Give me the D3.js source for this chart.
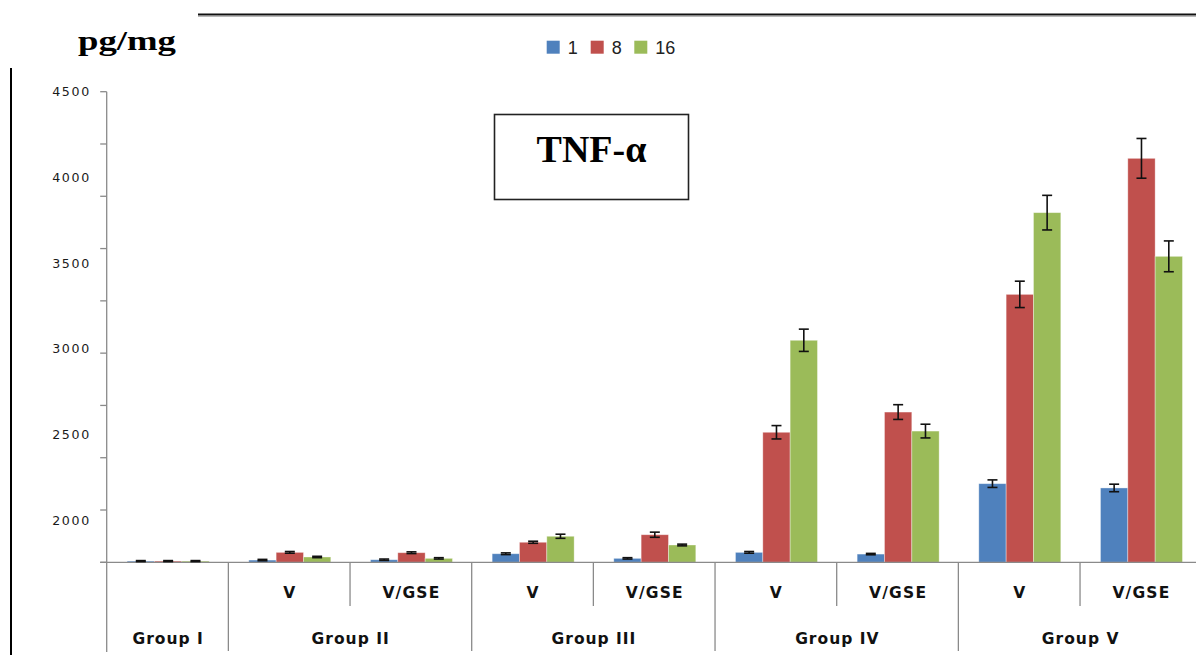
<!DOCTYPE html>
<html>
<head>
<meta charset="utf-8">
<script src="https://cdn.jsdelivr.net/npm/d3@7/dist/d3.min.js"></script>
<style>
  html, body { margin: 0; padding: 0; background: #fff; }
  svg { display: block; }
</style>
</head>
<body>
<svg id="chart" width="1196" height="655"></svg>
<script>
// TNF-α levels (pg/mg) by group and time point
const categories = ["I", "II-V", "II-VGSE", "III-V", "III-VGSE", "IV-V", "IV-VGSE", "V-V", "V-VGSE"];
const subLabels  = ["", "V", "V/GSE", "V", "V/GSE", "V", "V/GSE", "V", "V/GSE"];
const groups = [
  { name: "Group I",   cats: ["I"] },
  { name: "Group II",  cats: ["II-V", "II-VGSE"] },
  { name: "Group III", cats: ["III-V", "III-VGSE"] },
  { name: "Group IV",  cats: ["IV-V", "IV-VGSE"] },
  { name: "Group V",   cats: ["V-V", "V-VGSE"] }
];
const seriesNames = ["1", "8", "16"];
const seriesColors = ["#4F81BD", "#C0504D", "#9BBB59"];

const values1  = [1760, 1766, 1768, 1803, 1776, 1811, 1801, 2212, 2187];
const values8  = [1760, 1811, 1809, 1870, 1914, 2512, 2630, 3317, 4111];
const values16 = [1760, 1784, 1776, 1905, 1854, 3049, 2519, 3794, 3539];
const errors1  = [3, 4, 4, 5, 4, 5, 4, 22, 22];
const errors8  = [3, 5, 5, 6, 15, 39, 43, 77, 116];
const errors16 = [3, 4, 4, 12, 5, 65, 40, 101, 90];

const yTickLabels = [2000, 2500, 3000, 3500, 4000, 4500];
const yMin = 1753, yMax = 4500;
const tickMarkCount = 9;

const svg = d3.select("#chart");

// Plot geometry
const plotLeft = 106.7, plotRight = 1201.7, plotTop = 91.7, plotBottom = 562.3;
const axisGray = "#8a8a8a";

const x = d3.scaleBand().domain(categories).range([plotLeft, plotRight]).paddingInner(0).paddingOuter(0);
const bw = x.bandwidth();
const xs = d3.scaleBand().domain(seriesNames).range([bw * 0.168, bw * 0.842]).padding(0);
const y = d3.scaleLinear().domain([yMin, yMax]).range([plotBottom, plotTop]);
const tickPos = d3.scaleLinear().domain([0, tickMarkCount]).range([plotBottom, plotTop]);

// Decorative frame lines
svg.append("line").attr("x1", 11).attr("x2", 11).attr("y1", 68).attr("y2", 655)
  .attr("stroke", "#000").attr("stroke-width", 2);
svg.append("line").attr("x1", 198).attr("x2", 1196).attr("y1", 14.5).attr("y2", 14.5)
  .attr("stroke", "#111").attr("stroke-width", 2);
svg.append("line").attr("x1", 198).attr("x2", 1196).attr("y1", 16.5).attr("y2", 16.5)
  .attr("stroke", "#b8b8b8").attr("stroke-width", 1);

// Unit label
svg.append("text").attr("x", 78).attr("y", 49.5)
  .attr("font-family", "'Liberation Serif', 'Times New Roman', serif")
  .attr("font-weight", "bold").attr("font-size", 27)
  .attr("textLength", 98).attr("lengthAdjust", "spacingAndGlyphs")
  .attr("fill", "#000").text("pg/mg");

// Legend
const legend = svg.append("g");
const legendX = [546.7, 590.7, 634.3];
seriesNames.forEach((s, i) => {
  legend.append("rect").attr("x", legendX[i]).attr("y", 40.7).attr("width", 13).attr("height", 13)
    .attr("fill", seriesColors[i]);
  legend.append("text").attr("x", legendX[i] + 21).attr("y", 54)
    .attr("font-family", "'Liberation Sans', Arial, sans-serif").attr("font-size", 18)
    .attr("fill", "#222").text(s);
});

// Y axis: line, evenly spaced tick marks, value labels
svg.append("line").attr("x1", plotLeft).attr("x2", plotLeft).attr("y1", plotTop).attr("y2", 652)
  .attr("stroke", axisGray).attr("stroke-width", 1.3);
svg.append("g").selectAll("line").data(d3.range(0, tickMarkCount + 1)).join("line")
  .attr("x1", plotLeft - 6.5).attr("x2", plotLeft)
  .attr("y1", d => tickPos(d)).attr("y2", d => tickPos(d))
  .attr("stroke", axisGray).attr("stroke-width", 1.3);
svg.append("g").selectAll("text").data(yTickLabels).join("text")
  .attr("x", 91).attr("y", d => y(d) + 4.6)
  .attr("text-anchor", "end")
  .attr("font-family", "'DejaVu Sans', Verdana, sans-serif").attr("font-size", 12.6)
  .attr("letter-spacing", 1.7).attr("fill", "#1a1a1a")
  .text(d => d);

// Bars
const seriesData = [values1, values8, values16];
const seriesErr = [errors1, errors8, errors16];
const barG = svg.append("g");
seriesNames.forEach((s, si) => {
  barG.append("g").selectAll("rect").data(categories).join("rect")
    .attr("x", c => x(c) + xs(s))
    .attr("width", xs.bandwidth())
    .attr("y", (c, i) => y(seriesData[si][i]))
    .attr("height", (c, i) => plotBottom - y(seriesData[si][i]))
    .attr("fill", seriesColors[si])
    .attr("stroke", "rgba(255,255,255,0.45)").attr("stroke-width", 0.8);
});

// Baseline
svg.append("line").attr("x1", plotLeft - 6.5).attr("x2", 1196).attr("y1", plotBottom).attr("y2", plotBottom)
  .attr("stroke", axisGray).attr("stroke-width", 1.3);

// Error bars
const errG = svg.append("g").attr("stroke", "#111").attr("stroke-width", 1.6);
seriesNames.forEach((s, si) => {
  categories.forEach((c, i) => {
    const cx = x(c) + xs(s) + xs.bandwidth() / 2;
    const v = seriesData[si][i], e = seriesErr[si][i];
    const y1 = y(v + e), y2 = y(v - e);
    errG.append("line").attr("x1", cx).attr("x2", cx).attr("y1", y1).attr("y2", y2);
    errG.append("line").attr("x1", cx - 5).attr("x2", cx + 5).attr("y1", y1).attr("y2", y1);
    errG.append("line").attr("x1", cx - 5).attr("x2", cx + 5).attr("y1", y2).attr("y2", y2);
  });
});

// Category axis: sub-labels and group labels with divider lines
const catAxis = svg.append("g");
const labelFont = "'DejaVu Sans', Verdana, sans-serif";
categories.forEach((c, i) => {
  if (!subLabels[i]) return;
  catAxis.append("text").attr("x", x(c) + bw / 2 + 0.6).attr("y", 597.5)
    .attr("text-anchor", "middle").attr("font-family", labelFont)
    .attr("font-weight", "bold").attr("font-size", 15.5).attr("letter-spacing", 1.2)
    .attr("fill", "#111").text(subLabels[i]);
});
groups.forEach(g => {
  const start = x(g.cats[0]);
  const end = x(g.cats[g.cats.length - 1]) + bw;
  catAxis.append("line").attr("x1", end).attr("x2", end).attr("y1", plotBottom).attr("y2", 651)
    .attr("stroke", axisGray).attr("stroke-width", 1.3);
  if (g.cats.length > 1) {
    const mid = x(g.cats[1]);
    catAxis.append("line").attr("x1", mid).attr("x2", mid).attr("y1", plotBottom).attr("y2", 606)
      .attr("stroke", axisGray).attr("stroke-width", 1.3);
  }
  catAxis.append("text").attr("x", (start + end) / 2 + 0.6).attr("y", 643.5)
    .attr("text-anchor", "middle").attr("font-family", labelFont)
    .attr("font-weight", "bold").attr("font-size", 15.5).attr("letter-spacing", 1.0)
    .attr("fill", "#111").text(g.name);
});

// Title box
svg.append("rect").attr("x", 494.5).attr("y", 114.5).attr("width", 194).attr("height", 85)
  .attr("fill", "#fff").attr("stroke", "#222").attr("stroke-width", 1.6);
svg.append("text").attr("x", 591.5).attr("y", 162)
  .attr("text-anchor", "middle")
  .attr("font-family", "'Liberation Serif', 'Times New Roman', serif")
  .attr("font-weight", "bold").attr("font-size", 38).attr("fill", "#000")
  .text("TNF-α");
</script>
</body>
</html>
